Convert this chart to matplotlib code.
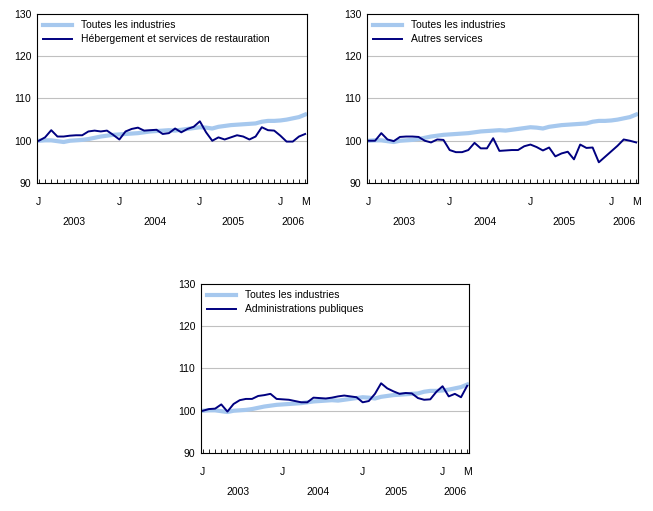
import matplotlib
matplotlib.use("Agg")
import matplotlib.pyplot as plt
import numpy as np

plt.rcParams["font.family"] = ["Liberation Sans", "DejaVu Sans"]
plt.rcParams["font.size"] = 7.5

all_ind = [100, 100.1, 100.1, 99.9, 99.7, 100, 100.1, 100.2, 100.4, 100.7, 101, 101.2,
           101.4, 101.5, 101.6, 101.7, 101.8, 102, 102.2, 102.3, 102.4, 102.5, 102.4,
           102.6, 102.8, 103, 103.2, 103.1, 102.9, 103.3, 103.5, 103.7, 103.8, 103.9,
           104, 104.1, 104.5, 104.7, 104.7, 104.8, 105, 105.3, 105.6, 106.2]
hebergement = [100, 100.8, 102.5, 101, 101, 101.2, 101.3, 101.3, 102.2, 102.4, 102.2,
               102.4, 101.4, 100.3, 102.2, 102.8, 103.1, 102.4, 102.5, 102.6, 101.6,
               101.8, 102.9, 102, 102.8, 103.3, 104.6, 102, 100, 100.8, 100.3, 100.8,
               101.3, 101, 100.3, 101, 103.2, 102.5, 102.4, 101.2, 99.8, 99.8, 101, 101.6]
autres = [100, 100, 101.8, 100.3, 99.9, 100.9, 101, 101, 100.9, 100, 99.6, 100.3, 100.2,
          97.8, 97.3, 97.3, 97.8, 99.5, 98.2, 98.2, 100.6, 97.6, 97.7, 97.8, 97.8, 98.7,
          99.1, 98.5, 97.7, 98.4, 96.3, 97, 97.4, 95.6, 99.1, 98.3, 98.4, 94.9, 96.2,
          97.5, 98.8, 100.3, 100, 99.6]
admin = [100, 100.4, 100.5, 101.5, 99.8, 101.6, 102.5, 102.8, 102.8, 103.5, 103.7, 104,
         102.8, 102.7, 102.6, 102.3, 102, 102, 103.1, 103, 102.9, 103.1, 103.4, 103.6,
         103.4, 103.2, 102, 102.3, 104, 106.5, 105.3, 104.6, 104, 104.2, 104.1, 103,
         102.6, 102.7, 104.5, 105.8, 103.4, 104, 103.2, 105.9]

month_ticks = [0, 13, 26, 39, 43]
month_labels = ["J", "J", "J", "J", "M"]
year_pos = [5.7, 18.7, 31.4, 41]
year_labels = ["2003", "2004", "2005", "2006"]

panels = [
    ("Hébergement et services de restauration", hebergement, [37, 14, 307, 183]),
    ("Autres services", autres, [367, 14, 638, 183]),
    ("Administrations publiques", admin, [201, 284, 469, 453]),
]

W, H = 653, 511
fig = plt.figure(figsize=(W / 100, H / 100), dpi=100)

for name, series, (l, t, r, b) in panels:
    ax = fig.add_axes([l / W, 1 - b / H, (r - l) / W, (b - t) / H])
    x = np.arange(len(series))
    ax.plot(x, all_ind, color="#a6c8ee", lw=3, label="Toutes les industries")
    ax.plot(x, series, color="#000080", lw=1.4, label=name)
    ax.set_xlim(-0.3, len(series) - 0.7)
    ax.set_ylim(90, 130)
    ax.set_yticks([90, 100, 110, 120, 130])
    for yv in [100, 110, 120]:
        ax.axhline(yv, color="#c0c0c0", lw=0.8, zorder=0)
    ax.set_xticks(x, minor=True)
    ax.set_xticks(month_ticks)
    ax.set_xticklabels(month_labels)
    ax.tick_params(axis="x", which="both", direction="in", length=3, width=0.6, pad=10)
    ax.tick_params(axis="x", which="major", length=3)
    ax.tick_params(axis="y", length=0, pad=4)
    for yp, lab in zip(year_pos, year_labels):
        ax.text(yp, -0.23, lab, transform=ax.get_xaxis_transform(), ha="center", va="center")
    for s in ax.spines.values():
        s.set_linewidth(0.8)
    ax.legend(loc="upper left", frameon=False, handlelength=2.8, borderaxespad=0.2,
              labelspacing=0.4, fontsize=7.5)

fig.savefig("out.png", dpi=100)
